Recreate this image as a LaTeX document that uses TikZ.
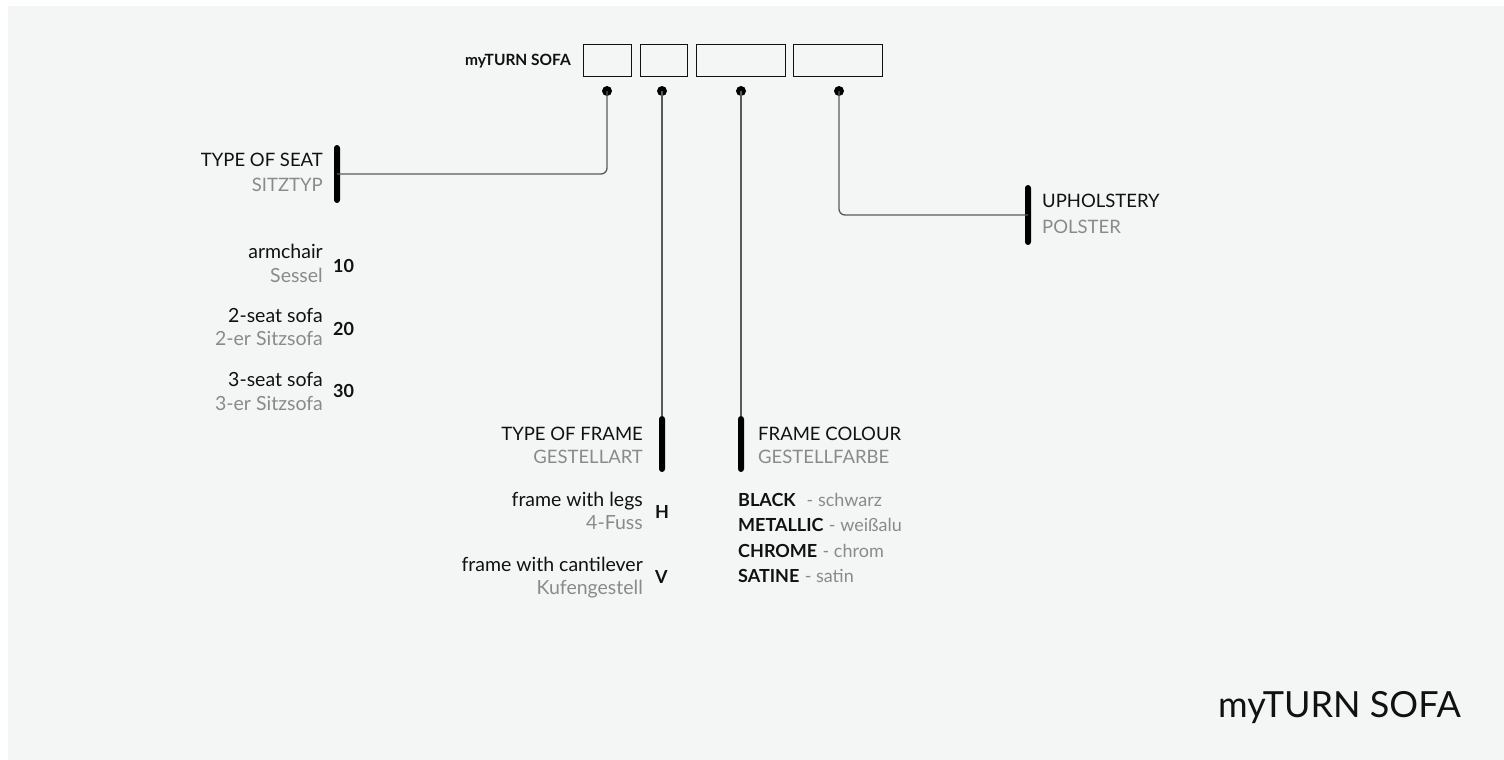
\documentclass[tikz,border=0pt]{standalone}
\usepackage{fontspec}
\setmainfont{Lato}
\definecolor{bg}{HTML}{F4F6F5}
\definecolor{ink}{HTML}{111111}
\definecolor{sub}{HTML}{8A8A8A}
\definecolor{wire}{HTML}{5A5A5A}
\begin{document}
\begin{tikzpicture}[x=1pt,y=-1pt,
  slot/.style={draw=ink,line width=1pt,minimum width=#1,minimum height=31pt,inner sep=0pt},
  dot/.style={circle,fill=black,minimum size=10pt,inner sep=0pt},
  bar/.style={fill=black,rounded corners=3pt,minimum width=6pt,minimum height=#1,inner sep=0pt},
  conn/.style={draw=wire,line width=1.3pt,rounded corners=6pt},
  head/.style={font=\fontsize{18.5}{20}\selectfont,text=ink,inner sep=0pt},
  headsub/.style={font=\fontsize{18.5}{20}\selectfont,text=sub,inner sep=0pt},
  item/.style={font=\fontsize{19.5}{21}\selectfont,text=ink,inner sep=0pt},
  itemsub/.style={font=\fontsize{19.5}{21}\selectfont,text=sub,inner sep=0pt},
  colitem/.style={font=\fontsize{18}{20}\selectfont,text=ink,inner sep=0pt},
  code/.style={font=\fontsize{18}{20}\selectfont\bfseries,text=ink,inner sep=0pt},
]
\useasboundingbox (0,0) rectangle (1504,760);
\fill[bg] (8,6) rectangle (1504,760);

% header
\node[font=\fontsize{15.5}{17}\selectfont\bfseries,text=ink,inner sep=0pt,anchor=base east] (hdr) at (571,66) {myTURN SOFA};
\node[slot=48pt] (b1) at (607,60.5) {};
\node[slot=47pt] (b2) at (663.5,60.5) {};
\node[slot=89pt] (b3) at (740.5,60.5) {};
\node[slot=89pt] (b4) at (837.5,60.5) {};

\node[dot] (d1) at (607,91) {};
\node[dot] (d2) at (662,91) {};
\node[dot] (d3) at (741,91) {};
\node[dot] (d4) at (839,91) {};

% bars
\node[bar=58pt] (seatbar) at (337,174) {};
\node[bar=56pt] (framebar) at (662,444) {};
\node[bar=56pt] (colbar) at (741,444) {};
\node[bar=60pt] (uphbar) at (1028,215) {};

% connectors
\draw[conn] (d1.center) |- (seatbar.center);
\draw[conn] (d2.center) -- (framebar.north);
\draw[conn] (d3.center) -- (colbar.north);
\draw[conn] (d4.center) |- (uphbar.center);

% type of seat
\node[head,anchor=base east] (seat) at (323,166) {TYPE OF SEAT};
\node[headsub,anchor=base east] (seatde) at (323,191) {SITZTYP};
\node[item,anchor=base east] (s1) at (323,258) {armchair};
\node[itemsub,anchor=base east] (s1de) at (323,282) {Sessel};
\node[code,anchor=base west] (c10) at (333,272) {10};
\node[item,anchor=base east] (s2) at (323,322) {2-seat sofa};
\node[itemsub,anchor=base east] (s2de) at (323,345) {2-er Sitzsofa};
\node[code,anchor=base west] (c20) at (333,335) {20};
\node[item,anchor=base east] (s3) at (323,386) {3-seat sofa};
\node[itemsub,anchor=base east] (s3de) at (323,410) {3-er Sitzsofa};
\node[code,anchor=base west] (c30) at (333,397) {30};

% type of frame
\node[head,anchor=base east] (frame) at (643,440) {TYPE OF FRAME};
\node[headsub,anchor=base east] (framede) at (643,463) {GESTELLART};
\node[item,anchor=base east] (f1) at (643,506) {frame with legs};
\node[itemsub,anchor=base east] (f1de) at (643,529) {4-Fuss};
\node[code,anchor=base west] (cH) at (655,518) {H};
\node[item,anchor=base east] (f2) at (643,571) {frame with cantilever};
\node[itemsub,anchor=base east] (f2de) at (643,594) {Kufengestell};
\node[code,anchor=base west] (cV) at (655,583) {V};

% frame colour
\node[head,anchor=base west] (col) at (758,440) {FRAME COLOUR};
\node[headsub,anchor=base west] (colde) at (758,463) {GESTELLFARBE};
\node[colitem,anchor=base west] (k1) at (738,506) {\textbf{BLACK}\hspace{0.6em}\textcolor{sub}{- schwarz}};
\node[colitem,anchor=base west] (k2) at (738,531) {\textbf{METALLIC}\hspace{0.3em}\textcolor{sub}{- weißalu}};
\node[colitem,anchor=base west] (k3) at (738,557) {\textbf{CHROME}\hspace{0.3em}\textcolor{sub}{- chrom}};
\node[colitem,anchor=base west] (k4) at (738,582) {\textbf{SATINE}\hspace{0.3em}\textcolor{sub}{- satin}};

% upholstery
\node[head,anchor=base west] (uph) at (1042,207) {UPHOLSTERY};
\node[headsub,anchor=base west] (uphde) at (1042,233) {POLSTER};

% title
\node[font=\fontsize{36}{40}\selectfont,text=ink,inner sep=0pt,anchor=base east] (title) at (1461,717) {myTURN SOFA};
\end{tikzpicture}
\end{document}
